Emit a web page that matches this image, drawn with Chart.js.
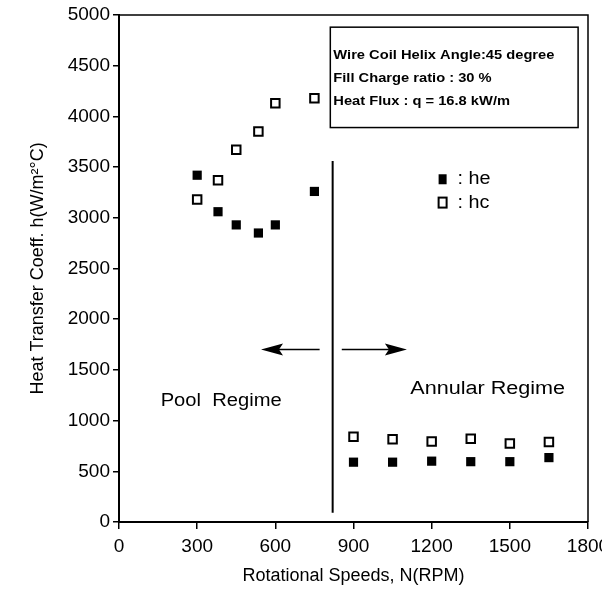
<!DOCTYPE html>
<html>
<head>
<meta charset="utf-8">
<script src="https://cdn.jsdelivr.net/npm/chart.js@4/dist/chart.umd.min.js"></script>
<style>
  html, body { margin: 0; padding: 0; background: #fff; }
  #wrap { width: 602px; height: 593px; }
</style>
</head>
<body>
<div id="wrap"><canvas id="heatChart" width="602" height="593"></canvas></div>
<script>
// rotational speed (RPM) and heat transfer coefficients
const poolSpeeds = [300, 380, 450, 535, 600, 750];
const poolHe = [3420, 3060, 2930, 2850, 2930, 3260];
const poolHc = [3180, 3370, 3670, 3850, 4130, 4180];

const annularSpeeds = [900, 1050, 1200, 1350, 1500, 1650];
const annularHe = [590, 590, 600, 595, 595, 635];
const annularHc = [840, 815, 795, 820, 775, 790];

const xTicks = [0, 300, 600, 900, 1200, 1500, 1800];
const yTicks = [0, 500, 1000, 1500, 2000, 2500, 3000, 3500, 4000, 4500, 5000];

const noteLines = [
  'Wire Coil Helix Angle:45 degree',
  'Fill Charge ratio : 30 %',
  'Heat Flux : q = 16.8 kW/m'
];

const FONT = "'Liberation Sans', Arial, Helvetica, sans-serif";

const toPoints = (xs, ys) => xs.map((x, i) => ({ x, y: ys[i] }));

// the scanned figure has slightly wide lettering
const wideText = (ctx, text, px, py, sx) => {
  ctx.save();
  ctx.translate(px, py);
  ctx.scale(sx, 1);
  ctx.fillText(text, 0, 0);
  ctx.restore();
};

// extra drawing: frame, regime divider, arrows, labels, note box, legend
const annotations = {
  id: 'annotations',
  afterDatasetsDraw(chart) {
    const { ctx, chartArea: a, scales: { x, y } } = chart;
    ctx.save();
    ctx.strokeStyle = '#000';
    ctx.fillStyle = '#000';

    // top + right frame
    ctx.lineWidth = 1.5;
    ctx.beginPath();
    ctx.moveTo(a.left, a.top);
    ctx.lineTo(a.right, a.top);
    ctx.lineTo(a.right, a.bottom);
    ctx.stroke();

    // regime divider
    ctx.lineWidth = 2;
    ctx.beginPath();
    ctx.moveTo(x.getPixelForValue(820), y.getPixelForValue(3560));
    ctx.lineTo(x.getPixelForValue(820), y.getPixelForValue(90));
    ctx.stroke();

    // arrows
    const arrow = (from, to, h) => {
      const x0 = x.getPixelForValue(from), x1 = x.getPixelForValue(to);
      const yy = y.getPixelForValue(h);
      const dir = Math.sign(x1 - x0);
      ctx.lineWidth = 1.5;
      ctx.beginPath();
      ctx.moveTo(x0, yy);
      ctx.lineTo(x1 - dir * 18, yy);
      ctx.stroke();
      ctx.beginPath();
      ctx.moveTo(x1, yy);
      ctx.lineTo(x1 - dir * 22, yy - 6);
      ctx.lineTo(x1 - dir * 18, yy);
      ctx.lineTo(x1 - dir * 22, yy + 6);
      ctx.closePath();
      ctx.fill();
    };
    arrow(770, 545, 1700);
    arrow(855, 1105, 1700);

    // regime labels
    ctx.font = '18px ' + FONT;
    ctx.textAlign = 'center';
    ctx.textBaseline = 'middle';
    wideText(ctx, 'Pool  Regime', x.getPixelForValue(392), y.getPixelForValue(1190), 1.12);
    wideText(ctx, 'Annular Regime', x.getPixelForValue(1415), y.getPixelForValue(1315), 1.2);

    // note box
    const bx0 = x.getPixelForValue(811), bx1 = x.getPixelForValue(1762);
    const by0 = y.getPixelForValue(4880), by1 = y.getPixelForValue(3890);
    ctx.lineWidth = 1.5;
    ctx.strokeRect(bx0, by0, bx1 - bx0, by1 - by0);
    ctx.font = 'bold 13px ' + FONT;
    ctx.textAlign = 'left';
    noteLines.forEach((line, i) => {
      wideText(ctx, line, bx0 + 3, by0 + 28 + i * 23, 1.13);
    });

    // legend
    const lx = x.getPixelForValue(1242);
    const ly1 = y.getPixelForValue(3380), ly2 = y.getPixelForValue(3150);
    ctx.fillRect(lx - 4, ly1 - 5, 8, 10);
    ctx.fillStyle = '#fff';
    ctx.fillRect(lx - 4, ly2 - 5, 8, 10);
    ctx.fillStyle = '#000';
    ctx.lineWidth = 2;
    ctx.strokeRect(lx - 4, ly2 - 5, 8, 10);
    ctx.font = '18px ' + FONT;
    wideText(ctx, ': he', lx + 15, ly1, 1.1);
    wideText(ctx, ': hc', lx + 15, ly2, 1.1);

    ctx.restore();
  }
};

const filledStyle = {
  pointStyle: 'rect',
  pointRadius: 6.5,
  backgroundColor: '#000',
  borderColor: '#000',
  borderWidth: 0
};
const openStyle = {
  pointStyle: 'rect',
  pointRadius: 6,
  backgroundColor: '#fff',
  borderColor: '#000',
  borderWidth: 2
};

new Chart(document.getElementById('heatChart'), {
  type: 'scatter',
  data: {
    datasets: [
      { label: 'he', data: toPoints(poolSpeeds, poolHe), ...filledStyle },
      { label: 'hc', data: toPoints(poolSpeeds, poolHc), ...openStyle },
      { label: 'he annular', data: toPoints(annularSpeeds, annularHe), ...filledStyle },
      { label: 'hc annular', data: toPoints(annularSpeeds, annularHc), ...openStyle }
    ]
  },
  options: {
    responsive: false,
    animation: false,
    devicePixelRatio: 1,
    layout: { padding: { top: 15, right: 14, left: 0, bottom: 0 } },
    plugins: {
      legend: { display: false },
      tooltip: { enabled: false }
    },
    scales: {
      x: {
        type: 'linear',
        min: 0,
        max: 1800,
        afterBuildTicks: (scale) => { scale.ticks = xTicks.map(v => ({ value: v })); },
        afterFit: (scale) => { scale.height = 71; scale.paddingLeft = 0; scale.paddingRight = 0; },
        ticks: {
          color: '#000',
          font: { family: FONT, size: 19 },
          padding: 6,
          maxRotation: 0,
          callback: (v) => String(v)
        },
        grid: { drawOnChartArea: false, color: '#000', tickLength: 7, lineWidth: 1.5 },
        border: { color: '#000', width: 2 },
        title: {
          display: true,
          text: 'Rotational Speeds, N(RPM)',
          color: '#000',
          font: { family: FONT, size: 18 },
          padding: { top: 0, bottom: 6 }
        }
      },
      y: {
        type: 'linear',
        min: 0,
        max: 5000,
        afterBuildTicks: (scale) => { scale.ticks = yTicks.map(v => ({ value: v })); },
        afterFit: (scale) => { scale.width = 119; scale.paddingTop = 0; scale.paddingBottom = 0; },
        ticks: {
          color: '#000',
          font: { family: FONT, size: 19 },
          padding: 3,
          callback: (v) => String(v)
        },
        grid: { drawOnChartArea: false, color: '#000', tickLength: 6, lineWidth: 1.5 },
        border: { color: '#000', width: 2 },
        title: {
          display: true,
          text: 'Heat Transfer Coeff. h(W/m²°C)',
          color: '#000',
          font: { family: FONT, size: 18 },
          padding: { top: 27, bottom: 0 }
        }
      }
    }
  },
  plugins: [annotations]
});
</script>
</body>
</html>
